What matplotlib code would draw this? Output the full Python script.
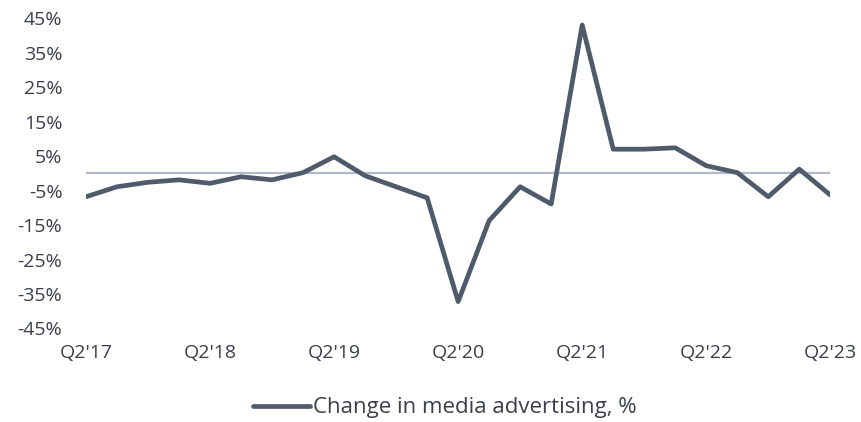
import matplotlib.pyplot as plt
import numpy as np

plt.rcParams['font.family'] = ['Open Sans', 'DejaVu Sans']

quarters = ["Q2'17", "Q3'17", "Q4'17", "Q1'18", "Q2'18", "Q3'18", "Q4'18", "Q1'19",
            "Q2'19", "Q3'19", "Q4'19", "Q1'20", "Q2'20", "Q3'20", "Q4'20", "Q1'21",
            "Q2'21", "Q3'21", "Q4'21", "Q1'22", "Q2'22", "Q3'22", "Q4'22", "Q1'23",
            "Q2'23"]
change = [-6.8, -3.9, -2.6, -1.9, -2.9, -1.0, -1.9, 0.2,
          4.8, -0.7, -3.9, -7.1, -37.2, -13.7, -3.9, -8.9,
          43.0, 7.0, 7.0, 7.4, 2.2, 0.2, -6.8, 1.2,
          -6.3]
y_ticks = [-45, -35, -25, -15, -5, 5, 15, 25, 35, 45]

line_color = '#4f5a6b'
text_color = '#3a3f4a'

fig = plt.figure(figsize=(8.62, 4.22), dpi=100)
ax = fig.add_axes([0.0998, 0.2216, 0.8634, 0.7354])

x = np.arange(len(quarters))
ax.axhline(0, color='#b3b9ca', lw=1.6, zorder=1)
ax.plot(x, change, color=line_color, lw=3.4, solid_joinstyle='round',
        solid_capstyle='round', label='Change in media advertising, %', zorder=2)

ax.set_xlim(0, len(quarters) - 1)
ax.set_ylim(-45, 45)
ax.set_yticks(y_ticks)
ax.set_yticklabels([f'{v}%' for v in y_ticks])
ax.set_xticks(x[::4])
ax.set_xticklabels(quarters[::4])

for s in ax.spines.values():
    s.set_visible(False)
ax.tick_params(axis='both', length=0, labelsize=14, colors=text_color)
ax.tick_params(axis='x', pad=11)
ax.tick_params(axis='y', pad=17)

fig.legend(loc='center', bbox_to_anchor=(0.516, 1 - 408 / 422), frameon=False,
           prop={'size': 16}, handlelength=2.55, handletextpad=0.15,
           labelcolor=text_color)

fig.savefig('out.png', dpi=100)
